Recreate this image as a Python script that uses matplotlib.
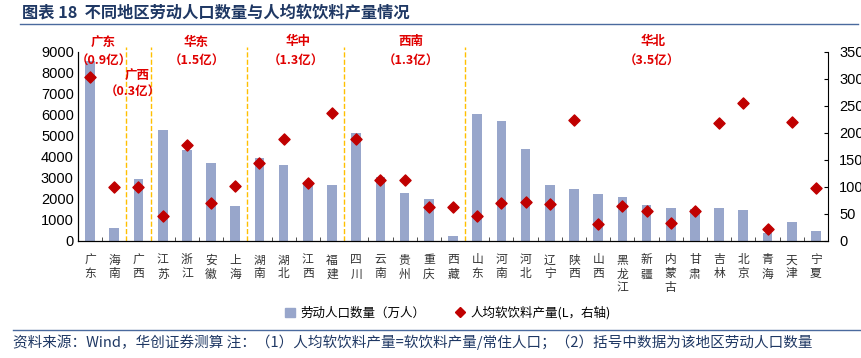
import matplotlib
matplotlib.use("Agg")
import matplotlib.pyplot as plt
import numpy as np
from matplotlib.lines import Line2D
from matplotlib.patches import Patch

plt.rcParams['font.family'] = ['Noto Sans CJK SC', 'DejaVu Sans']

provinces = ["广东", "海南", "广西", "江苏", "浙江", "安徽", "上海", "湖南", "湖北", "江西",
             "福建", "四川", "云南", "贵州", "重庆", "西藏", "山东", "河南", "河北", "辽宁",
             "陕西", "山西", "黑龙江", "新疆", "内蒙古", "甘肃", "吉林", "北京", "青海", "天津", "宁夏"]
labor = [8550, 630, 2930, 5270, 4330, 3720, 1660, 3960, 3620, 2740,
         2660, 5120, 3060, 2270, 1980, 250, 6020, 5720, 4370, 2660,
         2470, 2230, 2100, 1710, 1550, 1510, 1550, 1470, 400, 900, 460]
drink = [304, 99, 99, 47, 177, 71, 102, 145, 189, 107,
         237, 189, 113, 112, 62, 63, 47, 71, 72, 68,
         224, 31, 65, 56, 33, 56, 218, 256, 22, 220, 98]

# region boundaries and labels
bounds = [1.5, 2.5, 6.5, 10.5, 15.5]
regions = [("广东", "（0.9亿）", 0.55, 0.55), ("广西", "（0.3亿）", 1.95, 1.75),
           ("华东", "（1.5亿）", 4.4, 4.4), ("华中", "（1.3亿）", 8.6, 8.5),
           ("西南", "（1.3亿）", 13.25, 13.25), ("华北", "（3.5亿）", 23.25, 23.2)]
region_y = [(42, 61), (75, 92), (42, 61), (42, 61), (42, 61), (42, 61)]

W, H = 862, 358
fig = plt.figure(figsize=(W / 100, H / 100), dpi=100)
ax = fig.add_axes([78 / W, (H - 241) / H, 750 / W, 189.3 / H])
x = np.arange(len(provinces))

ax.bar(x, labor, width=0.4, color="#98A6CB", zorder=2)
ax.set_xlim(-0.5, len(provinces) - 0.5)
ax.set_ylim(0, 9000)
ax.set_yticks(np.arange(0, 9001, 1000))
ax.tick_params(axis="y", length=0, labelsize=10.5, pad=3)
for lab in ax.get_yticklabels():
    lab.set_family("Liberation Sans")
ax.set_xticks(x)
ax.set_xticklabels(["\n".join(p) for p in provinces], fontsize=8.5, linespacing=1.1, color="#333333")
ax.tick_params(axis="x", length=0, pad=9)
ax.set_xticks(np.arange(0.5, len(provinces) - 1, 1), minor=True)
ax.tick_params(axis="x", which="minor", direction="in", length=3, color="#333333")
ax.spines["top"].set_visible(False)
ax.spines["right"].set_visible(False)

ax2 = ax.twinx()
ax2.scatter(x, drink, marker="D", s=32, color="#C00000", zorder=3)
ax2.set_ylim(0, 350)
ax2.set_yticks(np.arange(0, 351, 50))
ax2.tick_params(axis="y", direction="in", length=3, labelsize=10.5, pad=8)
for lab in ax2.get_yticklabels():
    lab.set_family("Liberation Sans")
ax2.spines["top"].set_visible(False)

for b in bounds:
    ax.axvline(b, ymin=0, ymax=1.025, color="#FFC000", linestyle="--", linewidth=1, clip_on=False)

for (name, num, xn, xv), (yn, yv) in zip(regions, region_y):
    xp = ax.transData.transform((xn, 0))[0]
    xq = ax.transData.transform((xv, 0))[0]
    fig.text(xp / W, 1 - yn / H, name, color="#E00000", fontsize=9, fontweight="bold", ha="center", va="center")
    fig.text(xq / W, 1 - yv / H, num, color="#E00000", fontsize=9, fontweight="bold", ha="center", va="center")

# title
fig.text(22 / W, 1 - 13 / H, "图表 18  不同地区劳动人口数量与人均软饮料产量情况", fontsize=11.7,
         fontweight="bold", color="#1F3864", va="center")
fig.add_artist(Line2D([20 / W, 858 / W], [1 - 24 / H] * 2, color="#4A6A9E", linewidth=1))

# legend
handles = [Patch(color="#98A6CB", label="劳动人口数量（万人）"),
           Line2D([], [], marker="D", color="#C00000", linestyle="none", markersize=5, label="人均软饮料产量(L，右轴)")]
fig.legend(handles=handles, loc="center left", bbox_to_anchor=(274 / W, 1 - 313 / H), ncol=2, frameon=False,
           fontsize=9, handlelength=0.8, handletextpad=0.4, columnspacing=2.4)

# footer
fig.add_artist(Line2D([13 / W, 1.0], [1 - 330 / H] * 2, color="#4A6A9E", linewidth=1))
fig.text(13 / W, 1 - 342 / H, "资料来源：Wind，华创证券测算 注：（1）人均软饮料产量=软饮料产量/常住人口；（2）括号中数据为该地区劳动人口数量",
         fontsize=10.5, color="#1F3864", va="center")

fig.savefig("out.png", dpi=100)
